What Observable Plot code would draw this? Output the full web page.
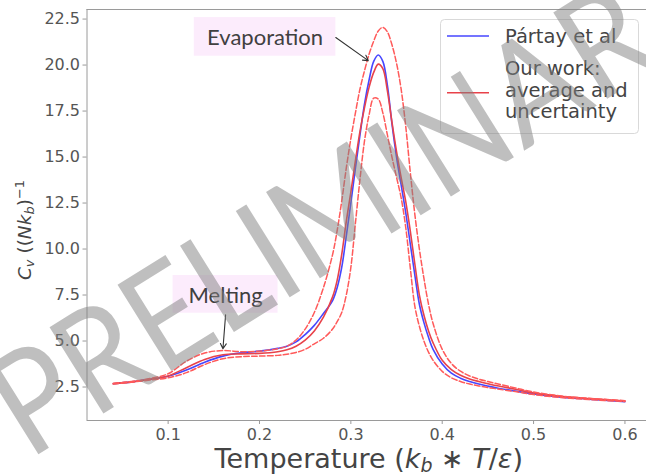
<!DOCTYPE html>
<html><head><meta charset="utf-8">
<script src="https://cdn.jsdelivr.net/npm/d3@7"></script>
<script src="https://cdn.jsdelivr.net/npm/@observablehq/plot@0.6"></script>
<style>body{margin:0;background:#fff;overflow:hidden}</style>
</head><body><div id="chart"></div>
<script>
const temperature = [0.04,0.06,0.08,0.10,0.12,0.14,0.16,0.18,0.20,0.22,0.23,0.24,0.25,0.26,0.27,0.28,0.285,0.29,0.295,0.30,0.305,0.31,0.315,0.32,0.325,0.33,0.335,0.34,0.345,0.35,0.355,0.36,0.365,0.37,0.375,0.38,0.385,0.39,0.40,0.41,0.42,0.43,0.44,0.45,0.46,0.48,0.50,0.53,0.56,0.60];
const partay  = [2.68,2.78,2.92,3.08,3.42,3.85,4.18,4.36,4.45,4.60,4.72,4.95,5.35,5.85,6.50,7.20,7.90,9.00,10.70,12.50,14.40,16.20,17.90,19.20,20.20,20.55,20.20,18.90,16.80,15.00,13.50,12.00,10.30,8.60,7.00,6.00,5.20,4.55,3.75,3.25,2.98,2.80,2.66,2.55,2.45,2.28,2.12,1.95,1.84,1.70];
const average = [2.68,2.78,2.92,3.10,3.55,4.00,4.25,4.30,4.33,4.42,4.52,4.72,5.05,5.55,6.30,7.40,8.30,9.70,11.50,13.10,14.80,16.40,17.70,18.80,19.60,20.05,19.80,18.60,16.90,15.30,13.90,12.60,11.00,9.20,7.50,6.40,5.55,4.90,3.95,3.45,3.14,2.94,2.80,2.68,2.57,2.38,2.18,1.99,1.87,1.74];
const upper   = [2.70,2.80,2.96,3.22,3.90,4.35,4.48,4.42,4.45,4.58,4.72,5.05,5.65,6.55,7.90,9.70,11.00,12.60,14.40,16.00,17.40,18.70,19.70,20.60,21.30,21.85,22.05,21.80,21.10,20.10,18.70,16.70,14.20,11.90,10.00,8.40,7.00,5.95,4.55,3.78,3.36,3.10,2.93,2.80,2.68,2.45,2.23,2.01,1.89,1.76];
const lower   = [2.66,2.76,2.88,3.00,3.28,3.72,4.04,4.15,4.18,4.22,4.28,4.38,4.55,4.85,5.15,5.65,6.05,6.55,7.50,9.00,11.40,13.80,15.90,17.30,18.20,18.15,17.40,16.20,15.00,13.90,12.80,11.20,9.00,6.90,5.80,5.00,4.40,3.95,3.35,3.00,2.80,2.66,2.56,2.47,2.40,2.25,2.09,1.93,1.82,1.71];

const xTicks = [0.1,0.2,0.3,0.4,0.5,0.6];
const yTicks = [2.5,5.0,7.5,10.0,12.5,15.0,17.5,20.0,22.5];
const xDomain = [0.0112, 0.6236];
const yDomain = [0.68, 23.02];
const legendLabels = ["Pártay et al", ["Our work:", "average and", "uncertainty"]];

// annotations (data coordinates)
const noteText = ["Evaporation", "Melting"];
const noteX = [0.2061, 0.1629];
const noteY = [21.45, 7.45];
const boxX1 = [0.1286, 0.1054], boxX2 = [0.2836, 0.2203];
const boxY1 = [20.48, 6.51], boxY2 = [22.58, 8.56];
const arrowX1 = [0.2835, 0.1629], arrowY1 = [21.5, 6.42];
const arrowX2 = [0.3191, 0.1600], arrowY2 = [20.24, 4.58];

const rows = temperature.map((t, i) => ({t, partay: partay[i], average: average[i], upper: upper[i], lower: lower[i]}));
const notes = noteText.map((s, i) => ({s, x: noteX[i], y: noteY[i], x1: boxX1[i], x2: boxX2[i], y1: boxY1[i], y2: boxY2[i], ax1: arrowX1[i], ay1: arrowY1[i], ax2: arrowX2[i], ay2: arrowY2[i]}));

const blue = "#4646ff", red = "#e8424a", redDash = "#ff5a5a";
const spine = "#9a9a9a";

const plot = Plot.plot({
  width: 646, height: 476,
  marginLeft: 86.5, marginRight: 0, marginTop: 9, marginBottom: 56,
  x: {domain: xDomain},
  y: {domain: yDomain},
  style: {fontFamily: "DejaVu Sans", fontSize: "16px", color: "#555", background: "white"},
  marks: [
    Plot.rect(notes, {x1: "x1", x2: "x2", y1: "y1", y2: "y2", fill: "#fcecfc"}),
    Plot.ruleX([xDomain[0]], {stroke: spine}),
    Plot.ruleY(yDomain, {stroke: spine}),
    Plot.axisX({ticks: xTicks, tickSize: 4, tickPadding: 4, tickFormat: d => d.toFixed(1), label: null, stroke: spine, fill: "#555", fontSize: 16}),
    Plot.axisY({ticks: yTicks, tickSize: 4, tickPadding: 3, tickFormat: d => d.toFixed(1), label: null, stroke: spine, fill: "#555", fontSize: 16}),
    Plot.line(rows, {x: "t", y: "partay", stroke: blue, strokeWidth: 1.6, curve: "catmull-rom"}),
    Plot.line(rows, {x: "t", y: "average", stroke: red, strokeWidth: 1.6, curve: "catmull-rom"}),
    Plot.line(rows, {x: "t", y: "upper", stroke: redDash, strokeWidth: 1.5, strokeDasharray: "5.5,2.4", curve: "catmull-rom"}),
    Plot.line(rows, {x: "t", y: "lower", stroke: redDash, strokeWidth: 1.5, strokeDasharray: "5.5,2.4", curve: "catmull-rom"}),
    Plot.text(notes, {x: "x", y: "y", text: "s", fontFamily: "Lato", fontSize: 22, fill: "#404040"}),
    Plot.arrow(notes, {x1: "ax1", y1: "ay1", x2: "ax2", y2: "ay2", stroke: "#333", strokeWidth: 1.1, headLength: 8})
  ]
});
document.getElementById("chart").appendChild(plot);

const svg = d3.select(plot);
const ff = "DejaVu Sans";

// legend
const lg = svg.append("g").attr("font-family", ff).attr("font-size", 19.5).attr("fill", "#444").attr("text-anchor", "start");
lg.append("rect").attr("x", 440.5).attr("y", 19.5).attr("width", 198).attr("height", 114).attr("rx", 4)
  .attr("fill", "white").attr("fill-opacity", 0.8).attr("stroke", "#d9d9d9");
lg.append("line").attr("x1", 447).attr("x2", 489).attr("y1", 36).attr("y2", 36).attr("stroke", blue).attr("stroke-width", 1.6);
lg.append("line").attr("x1", 447).attr("x2", 489).attr("y1", 92.7).attr("y2", 92.7).attr("stroke", red).attr("stroke-width", 1.6);
lg.append("text").attr("x", 505).attr("y", 43.3).text(legendLabels[0]);
legendLabels[1].forEach((s, i) => lg.append("text").attr("x", 505).attr("y", 75 + i * 21.6).text(s));

// x label
const xl = svg.append("text").attr("x", 368.8).attr("y", 468).attr("text-anchor", "middle")
  .attr("font-family", ff).attr("font-size", 27).attr("fill", "#444");
xl.append("tspan").text("Temperature (");
xl.append("tspan").attr("font-style", "italic").text("k");
xl.append("tspan").attr("font-style", "italic").attr("font-size", 19).attr("dy", 4).text("b");
xl.append("tspan").attr("dy", -4).text(" ∗ ");
xl.append("tspan").attr("font-style", "italic").text("T");
xl.append("tspan").text("/");
xl.append("tspan").attr("font-style", "italic").text("ε");
xl.append("tspan").text(")");

// y label
const yl = svg.append("text").attr("transform", "translate(30.5,230) rotate(-90)").attr("text-anchor", "middle")
  .attr("font-family", ff).attr("font-size", 18.5).attr("fill", "#444");
yl.append("tspan").attr("font-style", "italic").text("C");
yl.append("tspan").attr("font-style", "italic").attr("font-size", 13).attr("dy", 3).text("v");
yl.append("tspan").attr("dy", -3).text(" ((");
yl.append("tspan").attr("font-style", "italic").text("Nk");
yl.append("tspan").attr("font-style", "italic").attr("font-size", 13).attr("dy", 3).text("b");
yl.append("tspan").attr("dy", -3).text(")");
yl.append("tspan").attr("font-size", 13).attr("dy", -7).text("−1");

// watermark
svg.append("text").attr("transform", "translate(352,198) rotate(-32) scale(0.9,1)").attr("text-anchor", "middle").attr("dy", "0.36em")
  .attr("font-family", "Lato").attr("font-size", 142).attr("fill", "#7f7f7f").attr("fill-opacity", 0.5)
  .text("PRELIMINARY");
</script>
</body></html>
